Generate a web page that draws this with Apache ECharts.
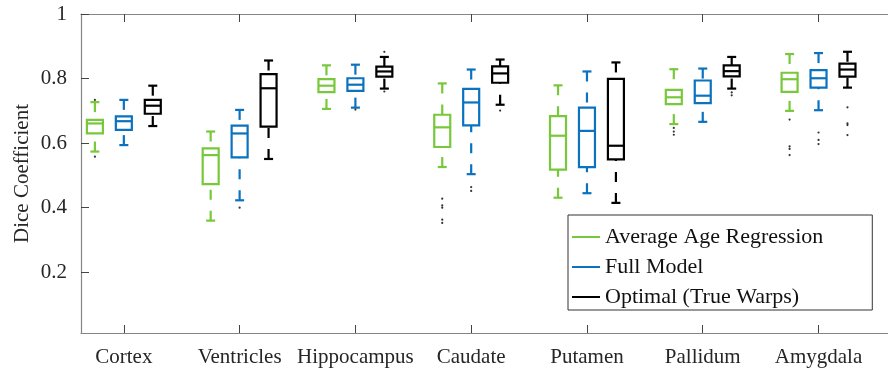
<!DOCTYPE html>
<html>
<head>
<meta charset="utf-8">
<script src="https://cdn.jsdelivr.net/npm/echarts@6/dist/echarts.min.js"></script>
<style>html,body{margin:0;padding:0;background:#fff;}#c{width:888px;height:371px;}</style>
</head>
<body>
<div id="c"></div>
<script>
// ---- data ----
const categories = ['Cortex','Ventricles','Hippocampus','Caudate','Putamen','Pallidum','Amygdala'];
const seriesNames = ['Average Age Regression','Full Model','Optimal (True Warps)'];
// [lower whisker, q1, median, q3, upper whisker] per category
const avgAgeBoxes = [
  [0.574, 0.630, 0.661, 0.672, 0.727],
  [0.360, 0.473, 0.563, 0.584, 0.636],
  [0.706, 0.758, 0.778, 0.798, 0.841],
  [0.526, 0.588, 0.649, 0.688, 0.785],
  [0.431, 0.518, 0.623, 0.684, 0.779],
  [0.659, 0.721, 0.742, 0.765, 0.829],
  [0.700, 0.759, 0.798, 0.818, 0.876]
];
const fullModelBoxes = [
  [0.594, 0.641, 0.668, 0.683, 0.734],
  [0.423, 0.556, 0.630, 0.654, 0.703],
  [0.710, 0.762, 0.781, 0.801, 0.843],
  [0.504, 0.655, 0.726, 0.768, 0.828],
  [0.445, 0.526, 0.638, 0.710, 0.822],
  [0.666, 0.724, 0.747, 0.794, 0.831],
  [0.702, 0.772, 0.801, 0.826, 0.879]
];
const optimalBoxes = [
  [0.653, 0.691, 0.716, 0.734, 0.778],
  [0.551, 0.651, 0.770, 0.814, 0.856],
  [0.769, 0.806, 0.822, 0.837, 0.867],
  [0.719, 0.787, 0.816, 0.838, 0.859],
  [0.415, 0.550, 0.592, 0.799, 0.850],
  [0.769, 0.807, 0.823, 0.841, 0.867],
  [0.772, 0.806, 0.828, 0.846, 0.883]
];
// outliers: [category index, value]
const avgAgeOutliers = [
  [0, 0.558], [0, 0.734],
  [3, 0.428], [3, 0.407], [3, 0.400], [3, 0.363], [3, 0.353],
  [5, 0.647], [5, 0.636], [5, 0.626],
  [6, 0.673], [6, 0.590], [6, 0.582], [6, 0.563]
];
const fullModelOutliers = [
  [1, 0.400], [2, 0.704],
  [3, 0.464], [3, 0.452],
  [6, 0.633], [6, 0.610], [6, 0.597]
];
const optimalOutliers = [
  [2, 0.883], [2, 0.760],
  [3, 0.701],
  [5, 0.757], [5, 0.748],
  [6, 0.711], [6, 0.661], [6, 0.656], [6, 0.625]
];
const yTicks = [0.2, 0.4, 0.6, 0.8, 1];

// ---- styling ----
const colors = ['#77C83A', '#0A72BE', '#000000'];
const offsets = [-0.25, 0, 0.25];
const FONT = '"Liberation Serif", "DejaVu Serif", serif';
const TXT = '#262626';
const AX = '#858585';

const boxSets = [avgAgeBoxes, fullModelBoxes, optimalBoxes];
const outlierSets = [avgAgeOutliers, fullModelOutliers, optimalOutliers];

function makeRender(color) {
  return function (params, api) {
    const x = api.value(0);
    const lo = api.coord([x, api.value(1)]);
    const q1 = api.coord([x, api.value(2)]);
    const md = api.coord([x, api.value(3)]);
    const q3 = api.coord([x, api.value(4)]);
    const hi = api.coord([x, api.value(5)]);
    const cx = lo[0];
    const bw = 16, cw = 9, lw = 2.2;
    const solid = {stroke: color, lineWidth: lw, fill: null};
    const dashed = {stroke: color, lineWidth: lw, lineDash: [10, 11], fill: null};
    return {
      type: 'group',
      children: [
        {type: 'line', shape: {x1: cx, y1: hi[1], x2: cx, y2: q3[1]}, style: dashed},
        {type: 'line', shape: {x1: cx, y1: lo[1], x2: cx, y2: q1[1]}, style: dashed},
        {type: 'line', shape: {x1: cx - cw / 2, y1: hi[1], x2: cx + cw / 2, y2: hi[1]}, style: solid},
        {type: 'line', shape: {x1: cx - cw / 2, y1: lo[1], x2: cx + cw / 2, y2: lo[1]}, style: solid},
        {type: 'rect', shape: {x: cx - bw / 2, y: q3[1], width: bw, height: q1[1] - q3[1]}, style: solid},
        {type: 'line', shape: {x1: cx - bw / 2, y1: md[1], x2: cx + bw / 2, y2: md[1]}, style: solid}
      ]
    };
  };
}

const series = [];
boxSets.forEach((set, g) => {
  series.push({
    name: seriesNames[g],
    type: 'custom',
    renderItem: makeRender(colors[g]),
    itemStyle: {color: colors[g]},
    encode: {x: 0, y: [1, 2, 3, 4, 5]},
    data: set.map((b, i) => [i + 1 + offsets[g]].concat(b)),
    z: 3
  });
});
outlierSets.forEach((set, g) => {
  series.push({
    type: 'scatter',
    symbol: 'circle',
    symbolSize: 2.2,
    itemStyle: {color: '#000'},
    data: set.map(p => [p[0] + 1 + offsets[g], p[1]]),
    z: 4,
    silent: true
  });
});

const catTicks = categories.map((c, i) => i + 1);

const option = {
  animation: false,
  backgroundColor: '#fff',
  grid: {left: 81, right: -10, top: 14, bottom: 38},
  legend: {
    data: seriesNames.map(n => ({name: n, icon: 'rect'})),
    orient: 'vertical',
    left: 568,
    top: 215,
    itemWidth: 28,
    itemHeight: 2,
    itemGap: 8,
    padding: [11, 49, 2, 4],
    borderColor: '#333',
    borderWidth: 1,
    backgroundColor: '#fff',
    textStyle: {fontFamily: FONT, fontSize: 22, color: '#111', lineHeight: 22},
    selectedMode: false
  },
  xAxis: [{
    type: 'value',
    min: 0.63,
    max: 7.6,
    axisLine: {show: true, onZero: false, lineStyle: {color: AX, width: 1.2}},
    axisTick: {show: true, inside: true, length: 8, customValues: catTicks, lineStyle: {color: '#444', width: 1}},
    axisLabel: {
      show: true, customValues: catTicks, margin: 14,
      fontFamily: FONT, fontSize: 21, color: TXT,
      formatter: v => categories[Math.round(v) - 1] || ''
    },
    splitLine: {show: false}
  }, {
    type: 'value',
    position: 'top',
    min: 0.63,
    max: 7.6,
    axisLine: {show: true, onZero: false, lineStyle: {color: AX, width: 1.2}},
    axisTick: {show: true, inside: true, length: 8, customValues: catTicks, lineStyle: {color: '#444', width: 1}},
    axisLabel: {show: false},
    splitLine: {show: false}
  }],
  yAxis: {
    type: 'value',
    min: 0.012,
    max: 1,
    name: 'Dice Coefficient',
    nameLocation: 'middle',
    nameGap: 48,
    nameMoveOverlap: false,
    nameTextStyle: {fontFamily: FONT, fontSize: 21, color: TXT},
    axisLine: {show: true, onZero: false, lineStyle: {color: AX, width: 1.2}},
    axisTick: {show: true, inside: true, length: 8, customValues: yTicks, lineStyle: {color: '#444', width: 1}},
    axisLabel: {
      show: true, customValues: yTicks, margin: 14,
      fontFamily: FONT, fontSize: 21, color: TXT,
      formatter: v => (Math.abs(v - 1) < 1e-9 ? '1' : String(Math.round(v * 10) / 10))
    },
    splitLine: {show: false}
  },
  series: series
};

const chart = echarts.init(document.getElementById('c'), null, {renderer: 'canvas'});
chart.setOption(option);
</script>
</body>
</html>
